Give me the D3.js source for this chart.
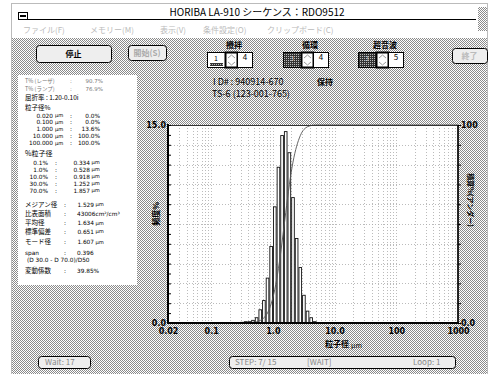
<!DOCTYPE html>
<html><head><meta charset="utf-8">
<script src="https://cdn.jsdelivr.net/npm/d3@7"></script>
<style>
body{margin:0;background:#fff}
svg{display:block}
text{font-family:"Noto Sans CJK JP","DejaVu Sans",sans-serif}
text.num{font-family:"DejaVu Sans",sans-serif}
</style></head><body>
<svg id="c" width="491" height="374"></svg>
<script>
// LA-910 channel edges (µm) and frequency % per channel
const edges = [0.296,0.339,0.389,0.445,0.510,0.584,0.669,0.766,0.877,1.005,1.151,1.318,1.510,1.729,1.981,2.269,2.599,2.976,3.409,3.905,4.472,5.122]
const freq = [0.05,0.1,0.1,0.2,0.4,1.0,1.7,3.4,5.8,8.8,11.8,14.2,14.5,12.9,9.5,6.4,4.2,2.1,0.9,0.4,0.1]
const xTicks = [0.02,0.1,1,10,100,1000]
const xTickLabels = ['0.02','0.1','1.0','10.0','100','1000']

// left panel text
const sizeRows = ['0.020','0.100','1.000','10.000','100.000']
const sizePct = ['0.0%','0.0%','13.6%','100.0%','100.0%']
const pctRows = ['0.1%','1.0%','10.0%','30.0%','70.0%']
const pctSizes = ['0.334','0.528','0.918','1.252','1.857']
const menus = ['ファイル(F)','メモリー(M)','表示(V)','条件設定(O)','クリップボード(C)']
const menuX = [23,90,160,203,267]

const svg = d3.select('#c')
const defs = svg.append('defs')
const pat = defs.append('pattern').attr('id','dith').attr('width',2).attr('height',2).attr('patternUnits','userSpaceOnUse')
pat.append('rect').attr('width',2).attr('height',2).attr('fill','#fff')
pat.append('rect').attr('width',1).attr('height',1).attr('fill','#8a8a8a')
pat.append('rect').attr('x',1).attr('y',1).attr('width',1).attr('height',1).attr('fill','#8a8a8a')
const pat2 = defs.append('pattern').attr('id','dark').attr('width',2).attr('height',2).attr('patternUnits','userSpaceOnUse')
pat2.append('rect').attr('width',2).attr('height',2).attr('fill','#333')
pat2.append('rect').attr('width',1).attr('height',1).attr('fill','#bbb')

svg.append('rect').attr('width',491).attr('height',374).attr('fill','#fff')

// window frame
svg.append('rect').attr('x',11.5).attr('y',3.5).attr('width',476).attr('height',372)
  .attr('fill','none').attr('stroke','#777').attr('stroke-dasharray','1,1')
svg.append('rect').attr('x',12).attr('y',38).attr('width',475).attr('height',336).attr('fill','url(#dith)')
svg.append('rect').attr('x',18.5).attr('y',12.5).attr('width',9).attr('height',7).attr('fill','#fff').attr('stroke','#000')
svg.append('rect').attr('x',20).attr('y',15).attr('width',6).attr('height',2).attr('fill','#000')
svg.append('line').attr('x1',28).attr('x2',476).attr('y1',19.5).attr('y2',19.5).attr('stroke','#000')
svg.append('rect').attr('x',478).attr('y',7).attr('width',9).attr('height',24).attr('fill','url(#dith)')
svg.append('text').attr('x',257).attr('y',13).attr('text-anchor','middle').attr('dominant-baseline','middle')
  .attr('font-size',10).attr('fill','#000').text('HORIBA LA-910 シーケンス：RDO9512')
svg.selectAll('text.menu').data(menus).enter().append('text').attr('class','menu')
  .attr('x',(d,i) => menuX[i]).attr('y',31).attr('dominant-baseline','middle')
  .attr('font-size',8).attr('fill','#bbb').text(d => d)

// buttons
function button(x, y, w, h, label, col) {
  svg.append('rect').attr('x',x+0.5).attr('y',y+0.5).attr('width',w).attr('height',h).attr('rx',3)
    .attr('fill','#eee').attr('stroke','#000')
  svg.append('text').attr('x',x+w/2).attr('y',y+h/2+1).attr('text-anchor','middle').attr('dominant-baseline','middle')
    .attr('font-size',8).attr('font-weight','bold').attr('fill',col).text(label)
}
button(36,45,75,17,'停止','#000')
button(128,45,38,15,'開始(S)','#aaa')
button(452,48,35,15,'終了','#bbb')

// spinner groups
const spinners = [
  { label: '攪拌', x: 207, v1: '1', v2: '4', dark: false },
  { label: '循環', x: 283, v1: '3', v2: '4', dark: true },
  { label: '超音波', x: 358, v1: '3', v2: '5', dark: true },
]
spinners.forEach(s => {
  svg.append('text').attr('x',s.x+27).attr('y',46).attr('text-anchor','middle').attr('dominant-baseline','middle')
    .attr('font-size',8).attr('font-weight','bold').text(s.label)
  svg.append('rect').attr('x',s.x+0.5).attr('y',52.5).attr('width',18).attr('height',15)
    .attr('fill',s.dark ? 'url(#dark)' : '#fff').attr('stroke','#000')
  if (!s.dark) svg.append('rect').attr('x',s.x+3).attr('y',63).attr('width',13).attr('height',3).attr('fill','url(#dark)')
  svg.append('text').attr('x',s.x+9).attr('y',59).attr('text-anchor','middle').attr('dominant-baseline','middle')
    .attr('font-size',7).attr('fill',s.dark ? '#ccc' : '#000').text(s.v1)
  svg.append('rect').attr('x',s.x+18.5).attr('y',52.5).attr('width',12).attr('height',15)
    .attr('fill','#fff').attr('stroke','#000').attr('stroke-width',2)
  svg.append('path').attr('d',`M${s.x+21},${58}l3.5,-3l3.5,3M${s.x+21},${62}l3.5,3l3.5,-3`)
    .attr('fill','none').attr('stroke','#999')
  svg.append('rect').attr('x',s.x+30.5).attr('y',52.5).attr('width',15).attr('height',15)
    .attr('fill','#fff').attr('stroke','#000')
  svg.append('text').attr('x',s.x+38).attr('y',58).attr('text-anchor','middle').attr('dominant-baseline','middle')
    .attr('font-size',8).attr('fill','#000').text(s.v2)
})

// ID block
svg.append('text').attr('x',213).attr('y',83).attr('dominant-baseline','middle').attr('font-size',9)
  .text('I D# : 940914-670')
svg.append('text').attr('x',317).attr('y',83).attr('dominant-baseline','middle').attr('font-size',8).attr('font-weight','bold')
  .text('保持')
svg.append('text').attr('x',212).attr('y',95).attr('dominant-baseline','middle').attr('font-size',9)
  .text('TS-6 (123-001-765)')

// left panel
svg.append('rect').attr('x',18).attr('y',75).attr('width',119).attr('height',210).attr('fill','#fff')
const pt = (x, y, s, opt = {}) => svg.append('text').attr('class',opt.n ? 'num' : null)
  .attr('x',x).attr('y',y).attr('dominant-baseline','middle')
  .attr('font-size',opt.fs || 6.5).attr('text-anchor',opt.a || 'start').attr('fill',opt.c || '#000').text(s)
pt(25,81.5,'T% (レーザ)',{c:'#777',fs:5.5}); pt(70,81.5,':',{c:'#777',fs:5.5,n:1}); pt(103,81.5,'90.7%',{a:'end',c:'#777',fs:5.5,n:1})
pt(25,89.5,'T% (ランプ)',{c:'#777',fs:5.5}); pt(70,89.5,':',{c:'#777',fs:5.5,n:1}); pt(103,89.5,'76.9%',{a:'end',c:'#777',fs:5.5,n:1})
pt(25,98.5,'屈折率 : 1.20-0.10i',{fs:6.5})
pt(25,108.5,'粒子径%',{fs:6.5})
sizeRows.forEach((s, i) => {
  const y = 116 + i * 6.8
  pt(53,y,s,{a:'end',fs:5.8,n:1}); pt(55,y,'µm',{fs:5.2,n:1}); pt(70,y,':',{fs:5.8,n:1})
  pt(100,y,sizePct[i],{a:'end',fs:5.8,n:1})
})
pt(25,154,'%粒子径',{fs:7})
pctRows.forEach((s, i) => {
  const y = 163 + i * 7
  pt(48,y,s,{a:'end',fs:5.8,n:1}); pt(55,y,':',{fs:5.8,n:1})
  pt(90,y,pctSizes[i],{a:'end',fs:5.8,n:1}); pt(91.5,y,'µm',{fs:5.2,n:1})
})
const stats = [
  ['メジアン径', '1.529', 'µm', 205],
  ['比表面積', '43006cm²/cm³', '', 214.5],
  ['平均径', '1.634', 'µm', 223.5],
  ['標準偏差', '0.651', 'µm', 232],
  ['モード径', '1.607', 'µm', 242.5],
]
stats.forEach(r => {
  pt(25,r[3],r[0],{fs:6.5}); pt(64,r[3],':',{fs:5.8,n:1})
  if (r[2]) { pt(94,r[3],r[1],{a:'end',fs:5.8,n:1}); pt(95.5,r[3],r[2],{fs:5.2,n:1}) }
  else pt(77,r[3],r[1],{fs:5.8,n:1})
})
pt(25,253.5,'span',{fs:5.8,n:1}); pt(64,253.5,':',{fs:5.8,n:1}); pt(77,253.5,'0.396',{fs:5.8,n:1})
pt(27,260.5,'(D 30.0 - D 70.0)/D50',{fs:5.8,n:1})
pt(25,271,'変動係数',{fs:6.5}); pt(64,271,':',{fs:5.8,n:1}); pt(77,271,'39.85%',{fs:5.8,n:1})

// chart
const M = { left: 168, right: 458, top: 125, bottom: 323 }
const x = d3.scaleLog().domain([0.02, 1000]).range([M.left, M.right])
const y = d3.scaleLinear().domain([0, 15]).range([M.bottom, M.top])
const y2 = d3.scaleLinear().domain([0, 100]).range([M.bottom, M.top])

svg.append('rect').attr('x',M.left).attr('y',M.top).attr('width',M.right-M.left).attr('height',M.bottom-M.top).attr('fill','#fff')

const grid = svg.append('g').attr('stroke','#aaa').attr('stroke-dasharray','1,2').attr('stroke-width',0.8)
const minor = []
for (let e = -2; e <= 3; e++) for (let m = 1; m < 10; m++) {
  const v = m * Math.pow(10, e)
  if (v > 0.02 && v < 1000) minor.push(v)
}
grid.selectAll('line.v').data(minor).enter().append('line')
  .attr('x1',d => Math.round(x(d))+0.5).attr('x2',d => Math.round(x(d))+0.5).attr('y1',M.top).attr('y2',M.bottom)
grid.selectAll('line.h').data(d3.range(1.5, 15, 1.5)).enter().append('line')
  .attr('y1',d => Math.round(y(d))+0.5).attr('y2',d => Math.round(y(d))+0.5).attr('x1',M.left).attr('x2',M.right)

// bars
svg.append('g').selectAll('rect').data(freq).enter().append('rect')
  .attr('x',(d,i) => x(edges[i]) + 0.5)
  .attr('y',d => y(d))
  .attr('width',(d,i) => Math.max(1, x(edges[i+1]) - x(edges[i]) - 1))
  .attr('height',d => M.bottom - y(d))
  .attr('fill','#fff').attr('stroke','#111').attr('stroke-width',0.9)

// cumulative
let acc = 0
const cum = [[edges[0], 0]].concat(freq.map((d, i) => { acc += d; return [edges[i+1], Math.min(100, acc / d3.sum(freq) * 100)] }))
cum.push([1000, 100])
svg.append('path').datum(cum)
  .attr('d', d3.line().x(d => x(d[0])).y(d => y2(d[1])).curve(d3.curveMonotoneX))
  .attr('fill','none').attr('stroke','#555').attr('stroke-width',0.9)

// frame and axes
svg.append('rect').attr('x',M.left).attr('y',M.top+0.5).attr('width',M.right-M.left).attr('height',M.bottom-M.top)
  .attr('fill','none').attr('stroke','#333').attr('stroke-width',1)
svg.append('line').attr('x1',M.left).attr('x2',M.left).attr('y1',M.top-1).attr('y2',M.bottom+1).attr('stroke','#000').attr('stroke-width',2)
svg.append('line').attr('x1',M.left-1).attr('x2',M.right+1).attr('y1',M.bottom).attr('y2',M.bottom).attr('stroke','#000').attr('stroke-width',2)
svg.append('line').attr('x1',M.right).attr('x2',M.right).attr('y1',M.top).attr('y2',M.bottom).attr('stroke','#000').attr('stroke-width',1.5)

const gl = svg.append('g').attr('transform',`translate(${M.left},0)`)
  .call(d3.axisRight(y).tickValues(d3.range(0, 15.01, 0.75)).tickSize(3).tickFormat(''))
const gr = svg.append('g').attr('transform',`translate(${M.right},0)`)
  .call(d3.axisRight(y2).tickValues(d3.range(0, 101, 10)).tickSize(3).tickFormat(''))
;[gl, gr].forEach(g => { g.select('.domain').remove(); g.selectAll('line').attr('stroke','#000') })

const gx = svg.append('g').attr('transform',`translate(0,${M.bottom + 1})`)
  .call(d3.axisBottom(x).tickValues(xTicks).tickSize(0).tickFormat((d, i) => xTickLabels[i]))
gx.select('.domain').remove()
gx.selectAll('text').attr('font-size',8).attr('font-weight','bold').attr('fill','#000').attr('dy','0.9em')
  .style('font-family','"DejaVu Sans",sans-serif')

const lab = (xx, yy, s, a) => svg.append('text').attr('x',xx).attr('y',yy).attr('text-anchor',a).attr('dominant-baseline','middle')
  .attr('font-size',8).attr('font-weight','bold').style('font-family','"DejaVu Sans",sans-serif').text(s)
lab(166, M.top, '15.0', 'end')
lab(166, M.bottom, '0.0', 'end')
lab(461, M.top, '100', 'start')
lab(461, M.bottom, '0.0', 'start')

svg.append('text').attr('transform','translate(157,214) rotate(-90)').attr('text-anchor','middle').attr('dominant-baseline','middle')
  .attr('font-size',8).attr('font-weight','bold').text('頻度%')
svg.append('text').attr('transform','translate(470,200) rotate(90)').attr('text-anchor','middle').attr('dominant-baseline','middle')
  .attr('font-size',7).attr('font-weight','bold').text('積算%(アンダー)')
svg.append('text').attr('x',325).attr('y',345).attr('dominant-baseline','middle').attr('font-size',8).attr('font-weight','bold').text('粒子径')
svg.append('text').attr('x',351).attr('y',346).attr('dominant-baseline','middle').attr('font-size',7).text('µm')

// status bar
svg.append('rect').attr('x',38.5).attr('y',356.5).attr('width',52).attr('height',12).attr('rx',3).attr('fill','#eee').attr('stroke','#000')
svg.append('text').attr('x',45).attr('y',363).attr('dominant-baseline','middle').attr('font-size',8).attr('fill','#888').text('Wait:  17')
svg.append('rect').attr('x',229.5).attr('y',356.5).attr('width',226).attr('height',12).attr('rx',3).attr('fill','#eee').attr('stroke','#000')
svg.append('text').attr('x',235).attr('y',363).attr('dominant-baseline','middle').attr('font-size',8).attr('fill','#888').text('STEP:  7/ 15')
svg.append('text').attr('x',307).attr('y',363).attr('dominant-baseline','middle').attr('font-size',8).attr('fill','#888').text('[WAIT]')
svg.append('text').attr('x',413).attr('y',363).attr('dominant-baseline','middle').attr('font-size',8).attr('fill','#888').text('Loop:  1')
</script>
</body></html>
